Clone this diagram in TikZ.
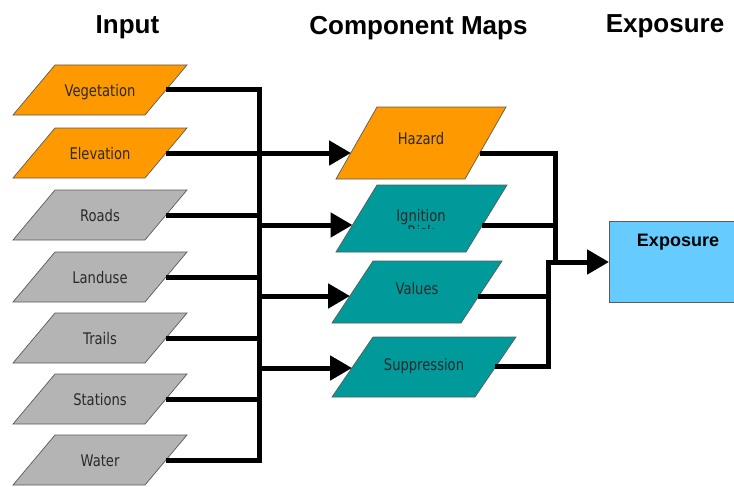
\documentclass[tikz,border=0pt]{standalone}
\usepackage{fontspec}
\setmainfont{Liberation Sans}
\newfontfamily\labfont[FakeStretch=0.82]{DejaVu Sans}
\usetikzlibrary{arrows.meta,calc}

\definecolor{inorange}{HTML}{FF9900}
\definecolor{ingray}{HTML}{B4B4B4}
\definecolor{cteal}{HTML}{009A9A}
\definecolor{expblue}{HTML}{66CCFF}
\definecolor{edgegray}{HTML}{5A5A5A}
\definecolor{labtext}{HTML}{2A2A2A}

% a slanted layer: name, style, top-left x, top y, bottom-left x, bottom y, width
\newcommand\layer[7]{%
  \coordinate (#1-tl) at (#3,#4);
  \coordinate (#1-tr) at ({#3+#7},#4);
  \coordinate (#1-bl) at (#5,#6);
  \coordinate (#1-br) at ({#5+#7},#6);
  \path[#2] (#1-tl) -- (#1-tr) -- (#1-br) -- (#1-bl) -- cycle;
  \coordinate (#1-out) at ($(#1-br)!0.5!(#1-tr)$);
}

\tikzset{
  lyr/.style={draw=edgegray, line width=0.7pt},
  orangelyr/.style={lyr, fill=inorange},
  graylyr/.style={lyr, fill=ingray},
  teallyr/.style={lyr, fill=cteal},
  lab/.style={font=\labfont\fontsize{16}{18}\selectfont, text=labtext, inner sep=0pt, anchor=base},
  header/.style={font=\bfseries\fontsize{26}{30}\selectfont, inner sep=0pt, anchor=base},
  wire/.style={line width=5pt, line join=miter},
  arrowwire/.style={wire, -{Triangle[length=22pt, width=24pt]}},
}

\begin{document}
\begin{tikzpicture}[x=1pt, y=-1pt]
\useasboundingbox (0,0) rectangle (734,487);
\clip (0,0) rectangle (734,487);

% column headers
\node[header] (h-in)   at (127.5,34) {Input};
\node[header] (h-comp) at (418.5,35) {Component Maps};
\node[header] (h-exp)  at (665,33)   {Exposure};

% input layers
\layer{veg}{orangelyr}{55}{65}{13}{115}{132}
\layer{elev}{orangelyr}{55}{128}{13}{178}{132}
\layer{roads}{graylyr}{55}{190}{13}{240}{132}
\layer{land}{graylyr}{55}{252}{13}{302}{132}
\layer{trails}{graylyr}{55}{313}{13}{363}{132}
\layer{stat}{graylyr}{55}{374}{13}{424}{132}
\layer{water}{graylyr}{55}{435}{13}{485}{132}

\node[lab] (veg-t)    at (100,96)  {Vegetation};
\node[lab] (elev-t)   at (100,159) {Elevation};
\node[lab] (roads-t)  at (100,221) {Roads};
\node[lab] (land-t)   at (100,283) {Landuse};
\node[lab] (trails-t) at (100,344) {Trails};
\node[lab] (stat-t)   at (100,405) {Stations};
\node[lab] (water-t)  at (100,466) {Water};

% component map layers
\layer{haz}{teallyr,fill=inorange}{377}{107}{336}{179}{129}
\layer{ign}{teallyr}{377}{185}{336}{252}{130}
\layer{val}{teallyr}{373}{261}{332}{323}{129}
\layer{sup}{teallyr}{373}{337}{332}{397}{143}

\node[lab] (haz-t) at (421,144) {Hazard};
\node[lab] (ign-t) at (421,221) {Ignition};
\begin{scope}
  \clip (380,200) rectangle (470,228.5);
  \node[lab] (ign-r) at (421,237) {Risk};
\end{scope}
\node[lab] (val-t) at (417,294) {Values};
\node[lab] (sup-t) at (424,370) {Suppression};

% entry and exit points on the component layers
\coordinate (haz-in)  at (351,153);
\coordinate (haz-o)   at (480,153);
\coordinate (ign-in)  at (352.5,225);
\coordinate (ign-o)   at (481.5,225);
\coordinate (val-in)  at (350,296);
\coordinate (val-o)   at (478,296);
\coordinate (sup-in)  at (352,368);
\coordinate (sup-o)   at (495,366);

% exposure box
\node[draw=edgegray, line width=0.7pt, fill=expblue, minimum width=140pt,
      minimum height=81pt, inner sep=0pt, anchor=north west] (exp) at (609,221) {};
\node[font=\bfseries\fontsize{18}{20}\selectfont, inner sep=0pt, anchor=base]
      (exp-t) at (678,246) {Exposure};

% input bus
\coordinate (bus-bot) at (259,460);
\draw[wire] (veg-out) -| (bus-bot) -- (water-out);
\draw[wire] (roads-out)  -- (roads-out -| bus-bot);
\draw[wire] (land-out)   -- (land-out -| bus-bot);
\draw[wire] (trails-out) -- (trails-out -| bus-bot);
\draw[wire] (stat-out)   -- (stat-out -| bus-bot);

% bus to component maps
\draw[arrowwire] (elev-out) -- (haz-in);
\draw[arrowwire] (ign-in -| bus-bot) -- (ign-in);
\draw[arrowwire] (val-in -| bus-bot) -- (val-in);
\draw[arrowwire] (sup-in -| bus-bot) -- (sup-in);

% component maps to exposure
\coordinate (join-up) at (555,262);
\coordinate (join-lo) at (548,262);
\draw[wire] (haz-o) -| (join-up);
\draw[wire] (ign-o) -- (ign-o -| join-up);
\draw[wire] (sup-o) -| (join-lo);
\draw[wire] (val-o) -- (val-o -| join-lo);
\draw[wire] ([xshift=-2.5pt]join-lo) -- ([xshift=2.5pt]join-up);
\draw[arrowwire] (join-up) -- (exp.west |- join-up);
\end{tikzpicture}
\end{document}
